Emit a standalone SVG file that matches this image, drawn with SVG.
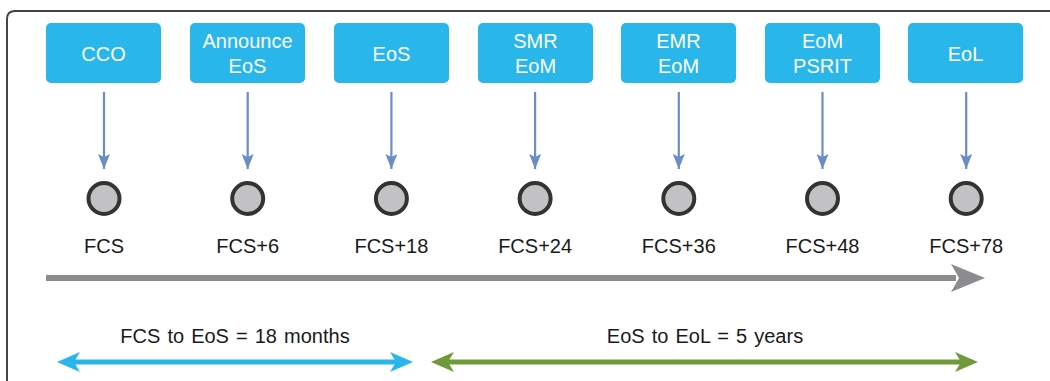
<svg xmlns="http://www.w3.org/2000/svg" width="1050" height="381" viewBox="0 0 1050 381">
<style>
.box{fill:#29B6EA;}
.bt{font-family:"Liberation Sans",Arial,sans-serif;font-size:20px;fill:#fff;text-anchor:middle;}
.dot{fill:#C2C2C4;stroke:#333;stroke-width:4;}
.lbl{font-family:"Liberation Sans",Arial,sans-serif;font-size:20px;fill:#1a1a1a;text-anchor:middle;}
.span{font-family:"Liberation Sans",Arial,sans-serif;font-size:20px;fill:#1a1a1a;text-anchor:middle;word-spacing:1.5px;}
.conn{stroke:#6A8DC9;stroke-width:2.2;fill:none;marker-end:url(#ah);}
</style>
<defs>
<marker id="ah" markerUnits="userSpaceOnUse" markerWidth="16" markerHeight="12" viewBox="0 0 16 12" refX="15" refY="6" orient="auto">
<path d="M0,0 L15,6 L0,12 L3,6 Z" fill="#6A8DC9"/>
</marker>
</defs>
<rect width="1050" height="381" fill="#fff"/>
<path d="M7,381 L7,19 Q7,11 15,11 L1050,11" fill="none" stroke="#444" stroke-width="2"/>

<g id="n-cco"><rect class="box" x="46" y="23" width="115" height="60" rx="5"/><text class="bt" x="103.5" y="61">CCO</text></g>
<g id="n-announce"><rect class="box" x="190" y="23" width="115" height="60" rx="5"/><text class="bt" x="247.5" y="48">Announce</text><text class="bt" x="247.5" y="73">EoS</text></g>
<g id="n-eos"><rect class="box" x="334" y="23" width="115" height="60" rx="5"/><text class="bt" x="391.5" y="61">EoS</text></g>
<g id="n-smr"><rect class="box" x="478" y="23" width="115" height="60" rx="5"/><text class="bt" x="535.5" y="48">SMR</text><text class="bt" x="535.5" y="73">EoM</text></g>
<g id="n-emr"><rect class="box" x="621" y="23" width="115" height="60" rx="5"/><text class="bt" x="678.5" y="48">EMR</text><text class="bt" x="678.5" y="73">EoM</text></g>
<g id="n-psrit"><rect class="box" x="765" y="23" width="115" height="60" rx="5"/><text class="bt" x="822.5" y="48">EoM</text><text class="bt" x="822.5" y="73">PSRIT</text></g>
<g id="n-eol"><rect class="box" x="908" y="23" width="115" height="60" rx="5"/><text class="bt" x="965.5" y="61">EoL</text></g>

<g id="m-fcs"><circle class="dot" cx="104" cy="198.5" r="15.5"/><text class="lbl" x="104" y="253">FCS</text></g>
<g id="m-fcs6"><circle class="dot" cx="247.7" cy="198.5" r="15.5"/><text class="lbl" x="247.7" y="253">FCS+6</text></g>
<g id="m-fcs18"><circle class="dot" cx="391.4" cy="198.5" r="15.5"/><text class="lbl" x="391.4" y="253">FCS+18</text></g>
<g id="m-fcs24"><circle class="dot" cx="535.1" cy="198.5" r="15.5"/><text class="lbl" x="535.1" y="253">FCS+24</text></g>
<g id="m-fcs36"><circle class="dot" cx="678.8" cy="198.5" r="15.5"/><text class="lbl" x="678.8" y="253">FCS+36</text></g>
<g id="m-fcs48"><circle class="dot" cx="822.5" cy="198.5" r="15.5"/><text class="lbl" x="822.5" y="253">FCS+48</text></g>
<g id="m-fcs78"><circle class="dot" cx="966.2" cy="198.5" r="15.5"/><text class="lbl" x="966.2" y="253">FCS+78</text></g>

<g id="connectors">
<line class="conn" x1="104" y1="92" x2="104" y2="169"/>
<line class="conn" x1="247.7" y1="92" x2="247.7" y2="169"/>
<line class="conn" x1="391.4" y1="92" x2="391.4" y2="169"/>
<line class="conn" x1="535.1" y1="92" x2="535.1" y2="169"/>
<line class="conn" x1="678.8" y1="92" x2="678.8" y2="169"/>
<line class="conn" x1="822.5" y1="92" x2="822.5" y2="169"/>
<line class="conn" x1="966.2" y1="92" x2="966.2" y2="169"/>
</g>

<g id="timeline">
<rect x="46" y="275" width="910" height="6" fill="#8C8C8E"/>
<path d="M951,264 L985,278 L951,292 L959,278 Z" fill="#8C8C8E"/>
</g>

<g id="span-fcs-eos">
<text class="span" x="235" y="343">FCS to EoS = 18 months</text>
<rect x="72" y="359.5" width="326" height="5" fill="#29B6EA"/>
<path d="M57,362 L80,352 L74,362 L80,372 Z" fill="#29B6EA"/>
<path d="M413,362 L390,352 L396,362 L390,372 Z" fill="#29B6EA"/>
</g>
<g id="span-eos-eol">
<text class="span" x="705" y="343">EoS to EoL = 5 years</text>
<rect x="446" y="359.5" width="517" height="5" fill="#6E9A3A"/>
<path d="M431,362 L454,352 L448,362 L454,372 Z" fill="#6E9A3A"/>
<path d="M978,362 L955,352 L961,362 L955,372 Z" fill="#6E9A3A"/>
</g>
</svg>
